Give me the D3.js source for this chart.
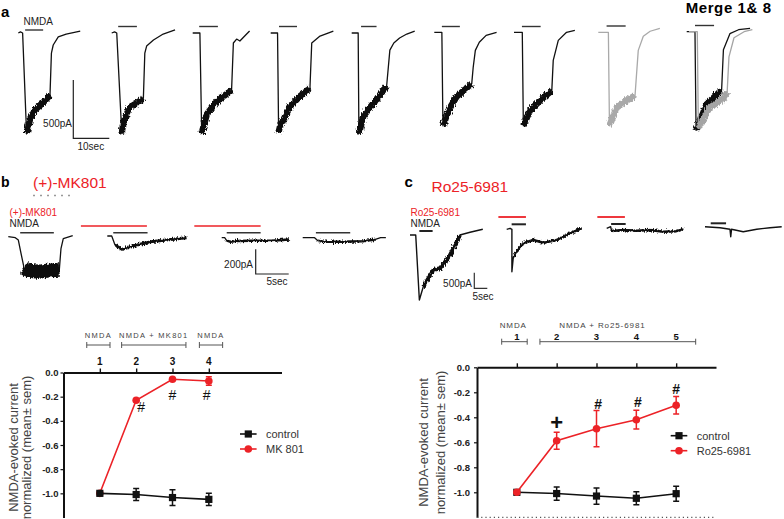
<!DOCTYPE html>
<html><head><meta charset="utf-8">
<script src="https://cdn.jsdelivr.net/npm/d3@7"></script>
<style>
body{margin:0;background:#fff}
svg{display:block}
text{font-family:"Liberation Sans",Arial,Helvetica,sans-serif}
</style>
</head><body>
<svg id="fig" width="784" height="519"></svg>
<script>
// ================= DATA =================
// Panel a: NMDA-evoked current traces, [time (s), current (pA)] relative to trace start
const aTrace1 = [[0,0],[0.6,9],[1.2,0],[2.3,-862],[3.3,-733],[4.4,-664],[6.7,-603],[8.8,-534],[9.2,-172],[9.7,-103],[11.1,-34],[13.3,-9],[17.2,17]];
const aTrace2 = [[0,0],[0.8,9],[1.4,0],[2.8,-862],[3.3,-759],[5.0,-638],[6.9,-603],[8.8,-560],[9.2,-172],[9.7,-112],[11.6,-60],[14.3,-9],[17.6,26]];
const aTrace3 = [[0,0],[2.0,0],[2.5,-862],[3.9,-698],[6.7,-586],[10.8,-491],[11.3,-86],[12.2,-52],[13.1,-69],[15.8,17]];
const aTrace4 = [[0,0],[1.9,0],[2.2,-853],[2.6,-802],[5.4,-629],[8.1,-543],[10.9,-474],[11.4,-86],[13.7,-26],[17.4,17]];
const aTrace5 = [[0,0],[1.8,0],[2.0,-862],[3.2,-715],[6.0,-603],[9.7,-457],[10.6,-147],[11.7,-86],[13.3,-43],[15.3,-9],[17.5,17]];
const aTrace6 = [[0,0],[2.1,0],[2.4,-802],[3.9,-672],[6.2,-552],[10.4,-440],[10.8,-302],[11.4,-155],[12.5,-86],[14.4,-26],[17.3,0]];
const aTrace7 = [[0,0],[2.3,0],[2.6,-802],[4.4,-672],[7.2,-586],[10.5,-500],[10.9,-241],[12.3,-69],[14.6,0],[16.9,17]];
const aTrace8 = [[0,0],[2.8,0],[3.1,-802],[5.1,-647],[7.8,-586],[10.2,-543],[11.1,-155],[12.5,-34],[14.4,9],[17.1,34]];
const aTrace9Black = [[0,0],[2.3,0],[2.6,-845],[5.6,-621],[9.7,-500],[10.2,-155],[12.0,-17],[14.4,17],[17.6,29]];
const aTrace9Gray = [[0,0],[2.3,0],[2.6,-828],[5.6,-655],[9.7,-569],[10.6,-517],[11.1,-216],[12.5,-52],[15.3,0],[17.6,17]];
const aTraces = [aTrace1,aTrace2,aTrace3,aTrace4,aTrace5,aTrace6,aTrace7,aTrace8,aTrace9Black,aTrace9Gray];
const aNoise = [[2.3,8.8],[2.8,8.8],[2.5,10.8],[2.2,10.9],[2.0,9.7],[2.4,10.4],[2.6,10.5],[3.1,10.2],[2.6,9.7],[2.6,10.6]];
const aNmdaBars = [[1.9,6.9],[1.8,7.0],[1.8,7.0],[2.3,7.3],[2.6,6.9],[2.1,7.1],[2.2,7.4],[2.3,7.6],[2.3,7.6],null];
const aScaleBar = {pA:500, sec:10};

// Panel b: (+)-MK801 traces
const mkTrace1 = [[0,0],[1.06,-8],[1.52,-27],[2.03,-162],[2.38,-251],[3.03,-275],[4.55,-284],[6.06,-275],[7.73,-267],[7.98,-97],[8.33,-16],[9.76,8]];
const mkTrace2 = [[0,0],[0.67,0],[1.17,-73],[2.2,-108],[3.9,-81],[6.5,-46],[9.0,-32],[12.0,-14]];
const mkTrace3 = [[0,0],[0.45,0],[0.76,-24],[1.26,-32],[2.3,-27],[4.5,-24],[7.6,-24],[10.2,-14]];
const mkTrace4 = [[0,0],[1.8,0],[2.3,-24],[3.0,-32],[6.1,-32],[9.1,-28],[10.9,-16],[11.8,0],[12.6,0]];
const mkTraces = [mkTrace1,mkTrace2,mkTrace3,mkTrace4];
const mkNoise = [[2.38,7.73],[1.17,12.0],[0.76,10.2],[2.3,10.9]];
const mkNmdaBars = [[1.8,6.9],[0.9,6.1],[0.76,5.9],[2.0,7.2]];
const mkDrugBars = [null,[-4.0,6.0],[-4.15,5.9],null];
const mkScaleBar = {pA:200, sec:5};

// Panel c: Ro25-6981 traces
const roTrace1 = [[0,0],[1.5,0],[2.2,0],[3.6,-2083],[5.1,-1657],[9.0,-1122],[11.5,-1067],[13.5,-856],[15.4,-641],[18.0,-215],[19.2,0],[23.1,87],[28.0,183]];
const roTrace2 = [[0,0],[1.3,32],[2.0,0],[2.0,-1359],[2.5,-929],[3.8,-718],[6.4,-449],[10.2,-343],[14.1,-429],[19.2,-343],[24.3,-128],[28.8,32]];
const roTrace3 = [[0,0],[1.5,54],[1.9,-87],[6.4,-54],[11.5,-77],[16.7,-54],[21.8,-109],[26.9,-96],[29.5,-32]];
const roTrace4 = [[0,0],[5.8,-32],[9.6,-83],[9.9,-321],[10.2,-83],[14.7,-160],[19.9,-83],[25.0,-32],[29.5,0]];
const roTraces = [roTrace1,roTrace2,roTrace3,roTrace4];
const roNoise = [[5.1,19.2],[2.5,28.8],[1.9,29.5],null];
const roNmdaBars = [[3.6,8.7],[1.9,7.4],[1.7,7.3],[2.2,8.1]];
const roDrugBars = [null,[-3.2,7.4],[-3.6,7.0],null];
const roScaleBar = {pA:500, sec:5};

// Summary plots (normalized NMDA-evoked current, mean ± sem)
const yTicks = [0,-0.2,-0.4,-0.6,-0.8,-1.0];
const mkCategories = [1,2,3,4];
const mkControlMean = [-1.0,-1.01,-1.035,-1.05];
const mkControlSem  = [0,0.05,0.065,0.05];
const mkDrugMean    = [-1.0,-0.23,-0.056,-0.07];
const mkDrugSem     = [0,0.01,0.01,0.035];
const mkBracketLabels = ["NMDA","NMDA + MK801","NMDA"];
const mkBracketSpans  = [[0.64,1.28],[1.60,3.37],[3.74,4.38]];
const mkMarks = [{cat:2.14,val:-0.33,sym:"#"},{cat:3.0,val:-0.227,sym:"#"},{cat:3.94,val:-0.227,sym:"#"}];

const roCategories = [1,2,3,4,5];
const roControlMean = [-1.0,-1.01,-1.03,-1.048,-1.011];
const roControlSem  = [0,0.053,0.065,0.052,0.06];
const roDrugMean    = [-1.0,-0.587,-0.491,-0.419,-0.304];
const roDrugSem     = [0,0.068,0.145,0.075,0.07];
const roBracketLabels = ["NMDA","NMDA + Ro25-6981"];
const roBracketSpans  = [[0.62,1.26],[1.58,5.49]];
const roBracketLabelAt = [0.91,3.15];
const roMarks = [{cat:3.04,val:-0.334,sym:"#"},{cat:4.04,val:-0.318,sym:"#"},{cat:5.0,val:-0.214,sym:"#"},{cat:2.0,val:-0.504,sym:"+"}];

// ================= DRAWING =================
const RED = "#ec2227";
const BLK = "#111";
const FONT = '"Liberation Sans",Arial,Helvetica,sans-serif';
const svg = d3.select("#fig");
svg.append("rect").attr("width",784).attr("height",519).attr("fill","#fff");

// texture filter for noisy recording segments (style only)
const defs = svg.append("defs");
const flt = defs.append("filter").attr("id","noisy").attr("filterUnits","userSpaceOnUse")
  .attr("x",0).attr("y",0).attr("width",784).attr("height",519);
flt.append("feTurbulence").attr("type","fractalNoise").attr("baseFrequency","1.1 0.3").attr("numOctaves",2).attr("seed",4).attr("result","n");
flt.append("feDisplacementMap").attr("in","SourceGraphic").attr("in2","n").attr("scale",5).attr("xChannelSelector","R").attr("yChannelSelector","G");

function txt(x,y,s,o={}){
  const t = svg.append("text").attr("x",x).attr("y",y).text(s)
    .attr("font-size",o.size||10).attr("fill",o.fill||"#222")
    .attr("font-weight",o.weight||"normal").attr("text-anchor",o.anchor||"start");
  if(o.ls) t.attr("letter-spacing",o.ls);
  if(o.rotate) t.attr("transform",`rotate(${o.rotate},${x},${y})`);
  return t;
}

function traceScales(x0, base, pxPerSec, pxPerPA){
  const x = d3.scaleLinear().domain([0,1]).range([x0, x0+pxPerSec]);
  const y = d3.scaleLinear().domain([0,-1]).range([base, base+pxPerPA]);
  return {x,y};
}

function drawTrace(pts, noise, sc, color, lw, nw){
  const line = d3.line().x(d=>sc.x(d[0])).y(d=>sc.y(d[1]));
  svg.append("path").attr("d",line(pts)).attr("fill","none").attr("stroke",color)
    .attr("stroke-width",lw).attr("stroke-linejoin","round");
  if(noise){
    const seg = pts.filter(d=>d[0]>=noise[0]-1e-9 && d[0]<=noise[1]+1e-9);
    svg.append("path").attr("d",line(seg)).attr("fill","none").attr("stroke",color)
      .attr("stroke-width",nw).attr("stroke-linejoin","round").attr("stroke-linecap","butt")
      .attr("filter","url(#noisy)");
  }
}

function drawBar(sc, bar, y, color, w){
  if(!bar) return;
  svg.append("line").attr("x1",sc.x(bar[0])).attr("x2",sc.x(bar[1]))
    .attr("y1",y).attr("y2",y).attr("stroke",color).attr("stroke-width",w);
}

function drawScaleBar(sc, sb, color){
  svg.append("path").attr("fill","none").attr("stroke",color).attr("stroke-width",1.2)
    .attr("d",`M${sc.x(0)},${sc.y(0)}V${sc.y(-sb.pA)}H${sc.x(sb.sec)}`);
}

// ---------- Panel a ----------
txt(1,17,"a",{size:15,weight:"bold",fill:"#000"});
txt(23.5,24.5,"NMDA",{size:10});
txt(771.7,12.7,"Merge 1& 8",{size:15,weight:"bold",fill:"#000",anchor:"end",ls:0.6});
const aX0 = [18.3,111.7,192.7,270.7,351.7,434.3,514,598.3,686.7,689.0];
const aBase = [33,33,33,33,33,32.3,32.3,32.3,31.7,31.7];
const aBarY = [30,26.5,26.5,26.5,26.5,26.5,26.5,26,25.5,25.5];
const aColor = [BLK,BLK,BLK,BLK,BLK,BLK,BLK,"#a9a9a9",BLK,"#a4a4a4"];
aTraces.forEach((tr,i)=>{
  const sc = traceScales(aX0[i], aBase[i], 3.6, 0.1166);
  drawTrace(tr, aNoise[i], sc, aColor[i], 1.3, 6.5);
  drawBar(sc, aNmdaBars[i], aBarY[i], "#333", 1.4);
});
{
  const sc = traceScales(73.3, 80, 3.6, 0.1166);
  drawScaleBar(sc, aScaleBar, "#222");
  txt(72,126.5,"500pA",{size:10,anchor:"end"});
  txt(77.5,150,"10sec",{size:10});
}

// ---------- Panel b traces ----------
txt(1,187,"b",{size:14,weight:"bold",fill:"#000"});
txt(33,188,"(+)-MK801",{size:15.5,fill:RED});
svg.append("line").attr("x1",33).attr("x2",75).attr("y1",195.5).attr("y2",195.5)
  .attr("stroke","#999").attr("stroke-width",1.3).attr("stroke-dasharray","2,5");
txt(9.5,216,"(+)-MK801",{size:10,fill:RED});
txt(9.5,227.3,"NMDA",{size:10});
const mkX0 = [8.3,107.3,221.7,302.7];
const mkBase = [236.7,236,237.7,237.7];
const mkNW = [14,3,2.5,2.5];
mkTraces.forEach((tr,i)=>{
  const sc = traceScales(mkX0[i], mkBase[i], 6.6, 0.1235);
  drawTrace(tr, mkNoise[i], sc, BLK, 1.3, mkNW[i]);
  drawBar(sc, mkNmdaBars[i], 232.7, "#333", 1.4);
  drawBar(sc, mkDrugBars[i], 226, RED, 1.5);
});
{
  const sc = traceScales(255.7, 249.3, 6.6, 0.1235);
  drawScaleBar(sc, mkScaleBar, "#222");
  txt(253,267.5,"200pA",{size:10,anchor:"end"});
  txt(266.5,285,"5sec",{size:10});
}

// ---------- Panel c traces ----------
txt(404.5,187,"c",{size:15,weight:"bold",fill:"#000"});
txt(431.5,192,"Ro25-6981",{size:15.5,fill:RED});
txt(410.5,215.5,"Ro25-6981",{size:10,fill:RED});
txt(410.5,226.7,"NMDA",{size:10});
const roX0 = [410,506.7,606.7,705];
const roBase = [235,229.3,228.3,226.7];
const roNmdaY = [231,224.3,224,223.3];
const roNW = [4,2.5,2.5,2];
roTraces.forEach((tr,i)=>{
  const sc = traceScales(roX0[i], roBase[i], 2.6, 0.0312);
  drawTrace(tr, roNoise[i], sc, BLK, 1.4, roNW[i]);
  drawBar(sc, roNmdaBars[i], roNmdaY[i], "#222", 2);
  drawBar(sc, roDrugBars[i], 217, RED, 1.8);
});
{
  const sc = traceScales(474.3, 272.7, 2.6, 0.0312);
  drawScaleBar(sc, roScaleBar, "#333");
  txt(472,286.5,"500pA",{size:10,anchor:"end"});
  txt(472.5,300,"5sec",{size:10});
}

// ---------- Summary line charts ----------
function lineChart(cfg){
  const x = d3.scaleLinear().domain([0,6]).range(cfg.xRange);
  const y = d3.scaleLinear().domain([-1.2,0]).range(cfg.yRange);
  const gy = svg.append("g").attr("transform",`translate(${cfg.xRange[0]},0)`)
    .call(d3.axisLeft(y).tickValues(yTicks).tickFormat(d=>d.toFixed(1))
      .tickSize(3).tickSizeOuter(0).tickPadding(cfg.pad));
  gy.attr("font-family",FONT).attr("font-size",9.5).attr("font-weight","bold");
  gy.select(".domain").attr("stroke","#111").attr("stroke-width",2);
  gy.selectAll(".tick line").attr("stroke","#111").attr("stroke-width",1.2);
  gy.selectAll(".tick text").attr("fill","#222");
  const gx = svg.append("g").attr("transform",`translate(0,${y(0)})`)
    .call(d3.axisTop(x).tickValues(cfg.cats).tickFormat("").tickSize(4).tickSizeOuter(0));
  gx.select(".domain").attr("stroke","#111").attr("stroke-width",2);
  gx.selectAll(".tick line").attr("stroke","#111").attr("stroke-width",1.4);
  if(cfg.dotted){
    svg.append("line").attr("x1",cfg.xRange[0]).attr("x2",cfg.xRange[1])
      .attr("y1",y(-1.2)).attr("y2",y(-1.2)).attr("stroke","#555")
      .attr("stroke-width",1.2).attr("stroke-dasharray","1.2,3");
  }
  cfg.cats.forEach(c=>txt(x(c),cfg.numY,String(c),{size:cfg.numSize,weight:"bold",anchor:"middle",fill:"#111"}));
  cfg.spans.forEach((s,i)=>{
    svg.append("path").attr("fill","none").attr("stroke","#555").attr("stroke-width",1)
      .attr("d",`M${x(s[0])},${cfg.brY-3}V${cfg.brY+3}M${x(s[0])},${cfg.brY}H${x(s[1])}M${x(s[1])},${cfg.brY-3}V${cfg.brY+3}`);
    const lx = cfg.labelAt ? x(cfg.labelAt[i]) : x((s[0]+s[1])/2);
    txt(lx,cfg.brTextY,cfg.labels[i],{size:cfg.brSize,anchor:"middle",fill:"#444",ls:cfg.brLs});
  });
  const series = [
    {mean:cfg.ctrlMean, sem:cfg.ctrlSem, color:BLK, shape:"square"},
    {mean:cfg.drugMean, sem:cfg.drugSem, color:RED, shape:"circle"}
  ];
  const order = cfg.redFirst ? [series[1],series[0]] : series;
  order.forEach(s=>{
    const pts = cfg.cats.map((c,i)=>({c, m:s.mean[i], e:s.sem[i]}));
    svg.append("path").attr("fill","none").attr("stroke",s.color).attr("stroke-width",1.6)
      .attr("d",d3.line().x(d=>x(d.c)).y(d=>y(d.m))(pts));
    pts.filter(d=>d.e>0).forEach(d=>{
      const cx = x(d.c), y1 = y(d.m+d.e), y2 = y(d.m-d.e);
      svg.append("path").attr("fill","none").attr("stroke",s.color).attr("stroke-width",1.5)
        .attr("d",`M${cx-3},${y1}H${cx+3}M${cx},${y1}V${y2}M${cx-3},${y2}H${cx+3}`);
    });
    pts.forEach(d=>{
      if(s.shape==="square"){
        svg.append("rect").attr("x",x(d.c)-3.6).attr("y",y(d.m)-3.6).attr("width",7.2).attr("height",7.2).attr("fill",s.color);
      } else {
        svg.append("circle").attr("cx",x(d.c)).attr("cy",y(d.m)).attr("r",3.8).attr("fill",s.color);
      }
    });
  });
  cfg.marks.forEach(m=>{
    if(m.sym==="+") txt(x(m.cat),y(m.val),"+",{size:22,weight:"bold",anchor:"middle",fill:"#111"});
    else txt(x(m.cat),y(m.val),"#",{size:14,weight:cfg.markWeight,anchor:"middle",fill:"#111"});
  });
  const L = cfg.legend;
  [[series[0],"control",0],[series[1],cfg.drugName,15]].forEach(([s,name,dy])=>{
    const ly = L.y+dy;
    svg.append("line").attr("x1",L.x).attr("x2",L.x+16.6).attr("y1",ly).attr("y2",ly).attr("stroke",s.color).attr("stroke-width",1.6);
    if(s.shape==="square") svg.append("rect").attr("x",L.x+8.3-3.6).attr("y",ly-3.6).attr("width",7.2).attr("height",7.2).attr("fill",s.color);
    else svg.append("circle").attr("cx",L.x+8.3).attr("cy",ly).attr("r",3.8).attr("fill",s.color);
    txt(L.x+26,ly+3.8,name,{size:11,fill:"#333"});
  });
  const cy = cfg.titleY;
  txt(cfg.titleX[0],cy,"NMDA-evoked current",{size:13,anchor:"middle",fill:"#444",rotate:-90});
  txt(cfg.titleX[1],cy,"normalized (mean\u00b1 sem)",{size:13,anchor:"middle",fill:"#444",rotate:-90});
}

lineChart({
  xRange:[63.5,281.5], yRange:[517.5,372.5], pad:2, cats:mkCategories,
  ctrlMean:mkControlMean, ctrlSem:mkControlSem, drugMean:mkDrugMean, drugSem:mkDrugSem,
  redFirst:true, numY:365, numSize:10, brY:345, brTextY:337.5, brSize:7.5, brLs:1.3,
  spans:mkBracketSpans, labels:mkBracketLabels, marks:mkMarks, markWeight:"normal",
  legend:{x:240,y:434}, drugName:"MK 801", titleX:[17.8,31.2], titleY:447.5, dotted:false
});
lineChart({
  xRange:[477,716], yRange:[517.3,367.3], pad:4, cats:roCategories,
  ctrlMean:roControlMean, ctrlSem:roControlSem, drugMean:roDrugMean, drugSem:roDrugSem,
  redFirst:false, numY:339.5, numSize:9.5, brY:341.7, brTextY:328.3, brSize:8, brLs:0.9,
  spans:roBracketSpans, labels:roBracketLabels, labelAt:roBracketLabelAt, marks:roMarks, markWeight:"bold",
  legend:{x:670.7,y:435.7}, drugName:"Ro25-6981", titleX:[427.8,444.5], titleY:442.5, dotted:true
});
</script>
</body></html>
